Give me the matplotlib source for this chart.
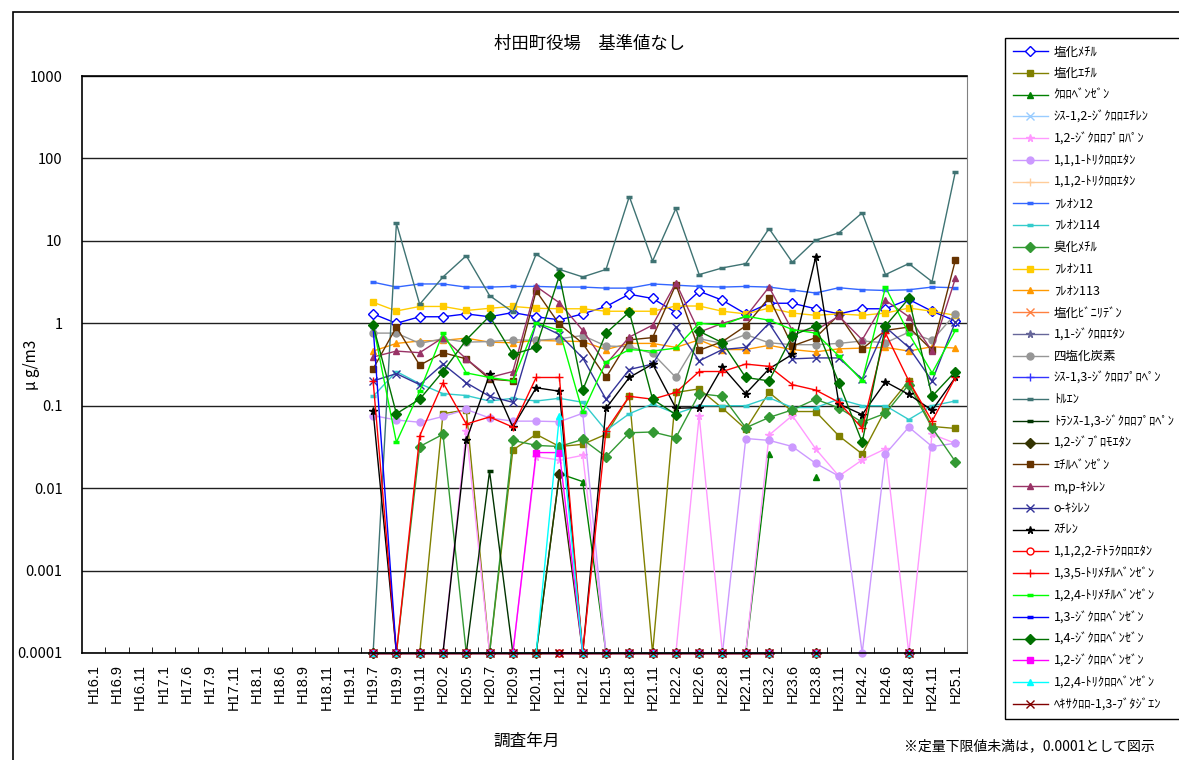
import numpy as np
import matplotlib
matplotlib.use('Agg')
from matplotlib import pyplot as plt
from matplotlib.patches import Rectangle

plt.rcParams['font.family'] = ['Noto Sans CJK JP', 'DejaVu Sans']

# survey dates (x categories)
dates = ['H16.1', 'H16.9', 'H16.11', 'H17.1', 'H17.6', 'H17.9', 'H17.11', 'H18.1',
         'H18.6', 'H18.9', 'H18.11', 'H19.1', 'H19.7', 'H19.9', 'H19.11', 'H20.2',
         'H20.5', 'H20.7', 'H20.9', 'H20.11', 'H21.1', 'H21.2', 'H21.5', 'H21.8',
         'H21.11', 'H22.2', 'H22.6', 'H22.8', 'H22.11', 'H23.2', 'H23.6', 'H23.8',
         'H23.11', 'H24.2', 'H24.6', 'H24.8', 'H24.11', 'H25.1']
measured = dates[12:]   # values exist from H19.7

N = 0.0001    # below quantitation limit -> plotted as 0.0001
G = np.nan    # not measured

# pattern for compounds never detected
nd_row = [N] * 18 + [G, N, G, G, G, N, G, G]

def nd_series(hits):
    row = list(nd_row)
    for d, v in hits.items():
        row[measured.index(d)] = v
    return row

methyl_chloride = [1.3, 1.0, 1.2, 1.2, 1.3, 1.2, 1.35, 1.2, 1.1, 1.3, 1.6, 2.25, 2.0,
                   1.35, 2.45, 1.9, 1.3, 1.75, 1.75, 1.5, 1.3, 1.5, 1.5, 1.95, 1.4, 1.07]
ethyl_chloride = [N, N, N, 0.08, 0.089, N, 0.029, 0.045, 0.032, 0.034, 0.045, 0.13, N,
                  0.145, 0.16, 0.093, 0.052, 0.145, 0.085, 0.085, 0.043, 0.026, 0.09,
                  0.2, 0.056, 0.053]
chlorobenzene = [N] * 8 + [0.015, 0.012] + [N] * 7 + [0.026, G, 0.0135, G, G, G, N, G, G]
cis12_dce = nd_series({})
dcp12 = [N, N, N, N, 0.05, N, N, 0.024, 0.022, 0.025, N, N, N, N, 0.076, N, N, 0.044,
         0.076, 0.03, 0.014, 0.022, 0.03, N, 0.045, 0.035]
tca111 = [0.076, 0.067, 0.063, 0.074, 0.09, 0.071, 0.065, 0.065, 0.064, 0.081, N, N, N,
          N, N, N, 0.04, 0.038, 0.032, 0.020, 0.014, N, 0.026, 0.055, 0.032, 0.035]
tca112 = nd_series({})
freon12 = [3.15, 2.75, 3.0, 3.0, 2.75, 2.75, 2.8, 2.8, 2.75, 2.75, 2.67, 2.67, 3.0, 2.9,
           2.8, 2.75, 2.8, 2.75, 2.53, 2.33, 2.7, 2.55, 2.5, 2.55, 2.75, 2.7]
freon114 = [0.13, 0.26, 0.185, 0.14, 0.133, 0.114, 0.123, 0.114, 0.123, 0.11, 0.05, 0.08,
            0.105, 0.08, 0.1, 0.1, 0.1, 0.125, 0.095, 0.095, 0.12, 0.1, 0.1, 0.068, 0.1, 0.114]
methyl_bromide = [N, N, 0.032, 0.045, N, N, 0.038, 0.033, 0.032, 0.039, 0.024, 0.047,
                  0.048, 0.041, 0.14, 0.13, 0.054, 0.072, 0.089, 0.12, 0.094, 0.063,
                  0.081, 0.18, 0.054, 0.021]
freon11 = [1.8, 1.41, 1.6, 1.6, 1.43, 1.52, 1.6, 1.52, 1.5, 1.5, 1.4, 1.4, 1.4, 1.62,
           1.62, 1.4, 1.3, 1.53, 1.33, 1.25, 1.3, 1.25, 1.33, 1.53, 1.4, 1.25]
freon113 = [0.46, 0.57, 0.61, 0.62, 0.66, 0.59, 0.58, 0.62, 0.61, 0.6, 0.48, 0.57, 0.57,
            0.51, 0.63, 0.48, 0.48, 0.54, 0.48, 0.45, 0.49, 0.5, 0.51, 0.46, 0.52, 0.5]
vinylidene_chloride = nd_series({})
dca11 = nd_series({})
carbon_tetrachloride = [0.76, 0.76, 0.57, 0.65, 0.59, 0.6, 0.63, 0.62, 0.65, 0.71, 0.53,
                        0.52, 0.43, 0.22, 0.65, 0.57, 0.73, 0.58, 0.55, 0.55, 0.57, 0.61,
                        0.58, 0.78, 0.62, 1.3]
cis13_dcp = nd_series({})
toluene = [N, 16.3, 1.7, 3.65, 6.6, 2.17, 1.37, 6.9, 4.5, 3.65, 4.5, 34.5, 5.7, 24.7,
           3.9, 4.7, 5.3, 14.1, 5.5, 10.2, 12.5, 21.9, 3.9, 5.3, 3.2, 69]
trans13_dcp = nd_series({'H20.7': 0.016})
dibromoethane = nd_series({'H21.1': 0.015})
ethylbenzene = [0.28, 0.9, 0.31, 0.44, 0.37, 0.21, 0.2, 2.47, 0.97, 0.57, 0.22, 0.63,
                0.67, 2.95, 0.47, 0.6, 0.93, 2.05, 0.53, 0.67, 1.27, 0.49, 0.82, 0.9,
                0.47, 5.8]
mp_xylene = [0.39, 0.46, 0.44, 0.67, 0.37, 0.22, 0.26, 2.8, 1.77, 0.82, 0.32, 0.68, 0.95,
             3.1, 0.78, 1.0, 1.2, 2.75, 0.82, 0.82, 1.22, 0.63, 1.9, 1.2, 0.46, 3.5]
o_xylene = [0.2, 0.245, 0.18, 0.32, 0.19, 0.13, 0.11, 1.0, 0.73, 0.38, 0.12, 0.275, 0.32,
            0.9, 0.35, 0.48, 0.51, 1.0, 0.37, 0.38, 0.38, 0.21, 0.9, 0.51, 0.2, 1.04]
styrene = [0.086, N, N, N, 0.038, 0.24, 0.055, 0.165, 0.15, N, 0.093, 0.22, 0.32, 0.093,
           0.095, 0.295, 0.14, 0.28, 0.42, 6.3, 0.105, 0.078, 0.195, 0.137, 0.088, 0.22]
tetrachloroethane = nd_series({})
tmb135 = [0.2, N, 0.043, 0.19, 0.06, 0.073, 0.055, 0.22, 0.22, N, 0.05, 0.13, 0.12, 0.145,
          0.26, 0.26, 0.32, 0.3, 0.18, 0.155, 0.11, 0.053, 0.76, 0.2, 0.065, 0.22]
tmb124 = [0.95, 0.036, 0.15, 0.76, 0.25, 0.22, 0.2, 1.0, 0.82, 0.083, 0.34, 0.48, 0.46,
          0.5, 1.0, 0.95, 1.22, 1.09, 0.84, 0.76, 0.4, 0.2, 2.75, 0.75, 0.25, 0.82]
dcb13 = nd_series({'H19.7': 0.9})
dcb14 = [0.95, 0.08, 0.12, 0.26, 0.63, 1.22, 0.42, 0.51, 3.8, 0.155, 0.76, 1.37, 0.12,
         0.078, 0.8, 0.58, 0.22, 0.2, 0.71, 0.93, 0.19, 0.036, 0.93, 2.0, 0.13, 0.26]
dcb12 = nd_series({'H20.11': 0.027, 'H21.1': 0.027})
tcb124 = nd_series({'H21.1': 0.076})
hexachlorobutadiene = nd_series({})

# (label, values, color, marker, marker face)
series = [
    ('塩化ﾒﾁﾙ', methyl_chloride, '#0000ff', 'D', 'white'),
    ('塩化ｴﾁﾙ', ethyl_chloride, '#808000', 's', None),
    ('ｸﾛﾛﾍﾞﾝｾﾞﾝ', chlorobenzene, '#008000', '^', None),
    ('ｼｽ-1,2-ｼﾞｸﾛﾛｴﾁﾚﾝ', cis12_dce, '#99ccff', 'x', None),
    ('1,2-ｼﾞｸﾛﾛﾌﾟﾛﾊﾟﾝ', dcp12, '#ff99ff', '*', None),
    ('1,1,1-ﾄﾘｸﾛﾛｴﾀﾝ', tca111, '#cc99ff', 'o', None),
    ('1,1,2-ﾄﾘｸﾛﾛｴﾀﾝ', tca112, '#ffcc99', '+', None),
    ('ﾌﾚｵﾝ12', freon12, '#3366ff', '_', None),
    ('ﾌﾚｵﾝ114', freon114, '#33cccc', '_', None),
    ('臭化ﾒﾁﾙ', methyl_bromide, '#339933', 'D', None),
    ('ﾌﾚｵﾝ11', freon11, '#ffcc00', 's', None),
    ('ﾌﾚｵﾝ113', freon113, '#ff9900', '^', None),
    ('塩化ﾋﾞﾆﾘﾃﾞﾝ', vinylidene_chloride, '#ff8040', 'x', None),
    ('1,1-ｼﾞｸﾛﾛｴﾀﾝ', dca11, '#666699', '*', None),
    ('四塩化炭素', carbon_tetrachloride, '#969696', 'o', None),
    ('ｼｽ-1,3-ｼﾞｸﾛﾛﾌﾟﾛﾍﾟﾝ', cis13_dcp, '#3333ff', '+', None),
    ('ﾄﾙｴﾝ', toluene, '#3f7373', '_', None),
    ('ﾄﾗﾝｽ-1,3-ｼﾞｸﾛﾛﾌﾟﾛﾍﾟﾝ', trans13_dcp, '#003300', '_', None),
    ('1,2-ｼﾞﾌﾞﾛﾓｴﾀﾝ', dibromoethane, '#333300', 'D', None),
    ('ｴﾁﾙﾍﾞﾝｾﾞﾝ', ethylbenzene, '#663300', 's', None),
    ('m,p-ｷｼﾚﾝ', mp_xylene, '#993366', '^', None),
    ('o-ｷｼﾚﾝ', o_xylene, '#333399', 'x', None),
    ('ｽﾁﾚﾝ', styrene, '#000000', '*', None),
    ('1,1,2,2-ﾃﾄﾗｸﾛﾛｴﾀﾝ', tetrachloroethane, '#ff0000', 'o', 'white'),
    ('1,3,5-ﾄﾘﾒﾁﾙﾍﾞﾝｾﾞﾝ', tmb135, '#ff0000', '+', None),
    ('1,2,4-ﾄﾘﾒﾁﾙﾍﾞﾝｾﾞﾝ', tmb124, '#00ff00', '_', None),
    ('1,3-ｼﾞｸﾛﾛﾍﾞﾝｾﾞﾝ', dcb13, '#0000ff', '_', None),
    ('1,4-ｼﾞｸﾛﾛﾍﾞﾝｾﾞﾝ', dcb14, '#007000', 'D', None),
    ('1,2-ｼﾞｸﾛﾛﾍﾞﾝｾﾞﾝ', dcb12, '#ff00ff', 's', None),
    ('1,2,4-ﾄﾘｸﾛﾛﾍﾞﾝｾﾞﾝ', tcb124, '#00ffff', '^', None),
    ('ﾍｷｻｸﾛﾛ-1,3-ﾌﾞﾀｼﾞｴﾝ', hexachlorobutadiene, '#800000', 'x', None),
]

fig = plt.figure(figsize=(11.79, 7.6), dpi=100)
# chart area border
fig.patches.append(Rectangle((13 / 1179, -0.05), 1.2, 1 - 12 / 760 + 0.05,
                             transform=fig.transFigure, fill=False,
                             edgecolor='black', linewidth=1.2))

ax = fig.add_axes([82 / 1179, 1 - 653 / 760, 885 / 1179, 577 / 760])

x = np.arange(len(dates))
for label, vals, color, marker, face in series:
    y = np.array([np.nan] * 12 + list(vals), dtype=float)
    ms = 5
    mew = 1.0
    if marker == '_':
        ms, mew = 4.5, 2.5
    elif marker in ('x', '+', '*'):
        ms = 5.5
    ax.plot(x, y, color=color, linewidth=1.0, marker=marker, markersize=ms,
            markeredgewidth=mew, markerfacecolor=face if face else color,
            markeredgecolor=color, label=label, clip_on=False)

ax.set_yscale('log')
ax.set_ylim(1e-4, 1e3)
ax.set_xlim(-0.5, len(dates) - 0.5)
yt = [1e-4, 1e-3, 1e-2, 1e-1, 1, 10, 100, 1000]
ax.set_yticks(yt)
ax.set_yticklabels(['0.0001', '0.001', '0.01', '0.1', '1', '10', '100', '1000'],
                   fontsize=10.5)
ax.yaxis.set_minor_locator(matplotlib.ticker.NullLocator())
ax.tick_params(axis='y', length=0, pad=14)
ax.grid(axis='y', color='#202020', linewidth=1.0)
ax.set_axisbelow(True)

ax.set_xticks(x)
ax.set_xticklabels(dates, rotation=90, fontsize=10.5, family=['Liberation Sans', 'DejaVu Sans'])
ax.set_xticks(x[:-1] + 0.5, minor=True)
ax.tick_params(axis='x', which='major', length=0, pad=8)
ax.tick_params(axis='x', which='minor', direction='in', length=4)

for s in ['left', 'bottom', 'top']:
    ax.spines[s].set_color('black')
    ax.spines[s].set_linewidth(1.2)
ax.spines['right'].set_color('#808080')

fig.text(32 / 1179, 1 - 365 / 760, 'μ g/m3', rotation=90, ha='center', va='center',
         fontsize=11)
fig.text(527 / 1179, 1 - 741 / 760, '調査年月', ha='center', va='center', fontsize=12)
fig.text(1155 / 1179, 1 - 746 / 760, '※定量下限値未満は，0.0001として図示',
         ha='right', va='center', fontsize=10)
fig.text(590 / 1179, 1 - 44 / 760, '村田町役場　基準値なし', ha='center', va='center',
         fontsize=12.5)

leg = fig.legend(loc='upper left', bbox_to_anchor=(1005 / 1179, 1 - 38 / 760),
                 fontsize=9, frameon=True, fancybox=False, edgecolor='black',
                 framealpha=1, handlelength=2.8, handletextpad=0.5,
                 labelspacing=0.70, borderpad=0.6, borderaxespad=0)
leg.get_frame().set_linewidth(1.0)

fig.savefig('out.png', dpi=100)
